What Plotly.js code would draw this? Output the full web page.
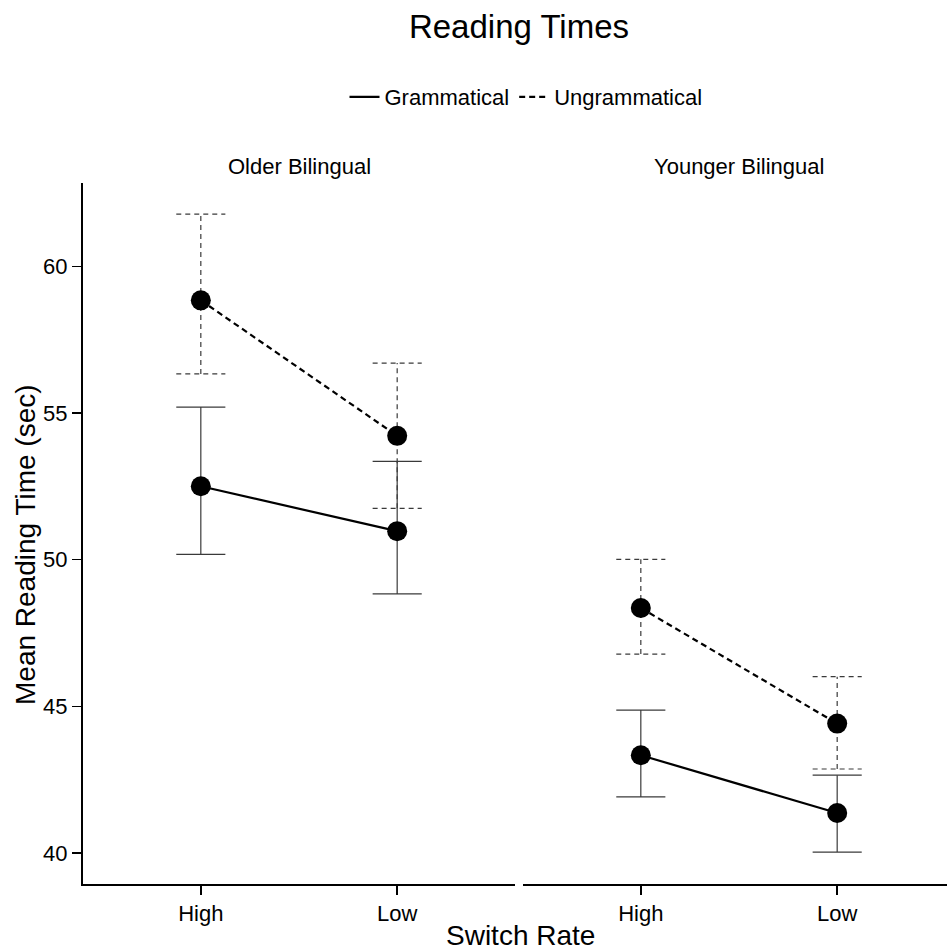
<!DOCTYPE html>
<html>
<head>
<meta charset="utf-8">
<script src="https://cdn.plot.ly/plotly-3.0.1.min.js"></script>
<style>html,body{margin:0;padding:0;background:#fff;}#chart{width:947px;height:950px;}</style>
</head>
<body>
<div id="chart"></div>
<script>
// ---- data ----
const panels = ['Older Bilingual', 'Younger Bilingual'];
const switchRate = ['High', 'Low'];
const conditions = ['Grammatical', 'Ungrammatical'];

// Older Bilingual
const olderGramMean = [52.50, 50.97];
const olderGramLow  = [50.18, 48.83];
const olderGramHigh = [55.20, 53.35];
const olderUngMean  = [58.84, 54.22];
const olderUngLow   = [56.33, 51.75];
const olderUngHigh  = [61.78, 56.70];

// Younger Bilingual
const youngerGramMean = [43.33, 41.36];
const youngerGramLow  = [41.91, 40.03];
const youngerGramHigh = [44.87, 42.65];
const youngerUngMean  = [48.35, 44.41];
const youngerUngLow   = [46.78, 42.86];
const youngerUngHigh  = [50.01, 46.01];

const tickVals = [40, 45, 50, 55, 60];

// ---- build ----
const FONT = 'Liberation Sans, Arial, Helvetica, sans-serif';
const series = [
  {panel: 0, cond: 0, mean: olderGramMean, lo: olderGramLow, hi: olderGramHigh},
  {panel: 0, cond: 1, mean: olderUngMean, lo: olderUngLow, hi: olderUngHigh},
  {panel: 1, cond: 0, mean: youngerGramMean, lo: youngerGramLow, hi: youngerGramHigh},
  {panel: 1, cond: 1, mean: youngerUngMean, lo: youngerUngLow, hi: youngerUngHigh}
];
const xpos = switchRate.map((s, i) => i + 1);
const capHalf = 0.125;

const errTraces = [], lineTraces = [], markerTraces = [];
series.forEach(s => {
  const xa = s.panel === 0 ? 'x' : 'x2';
  const dashed = s.cond === 1;
  const ex = [], ey = [];
  xpos.forEach((x, i) => {
    ex.push(x, x, null, x - capHalf, x + capHalf, null, x - capHalf, x + capHalf, null);
    ey.push(s.lo[i], s.hi[i], null, s.hi[i], s.hi[i], null, s.lo[i], s.lo[i], null);
  });
  errTraces.push({
    type: 'scatter', mode: 'lines', x: ex, y: ey, xaxis: xa, yaxis: 'y',
    line: {color: '#3a3a3a', width: 1.2, dash: dashed ? '5px,4px' : 'solid'},
    hoverinfo: 'skip', showlegend: false
  });
  lineTraces.push({
    type: 'scatter', mode: 'lines', x: xpos, y: s.mean, xaxis: xa, yaxis: 'y',
    name: conditions[s.cond], legendgroup: conditions[s.cond],
    showlegend: s.panel === 0,
    line: {color: '#000', width: 2.2, dash: dashed ? '6px,4px' : 'solid'}
  });
  markerTraces.push({
    type: 'scatter', mode: 'markers', x: xpos, y: s.mean, xaxis: xa, yaxis: 'y',
    marker: {color: '#000', size: 20},
    showlegend: false, hoverinfo: 'x+y'
  });
});

const W = 947, H = 950;
const mL = 83, mR = 0, mT = 183, mB = 66;
const pw = W - mL - mR, ph = H - mT - mB;
const unit = 432 / 2.2;
const x2start = (523 - mL) / pw;
const x2range = [0.4, 0.4 + (W - 523) / unit];

const xCommon = {
  tickvals: xpos, ticktext: switchRate, ticks: 'outside', ticklen: 9, tickwidth: 1.5, tickcolor: '#000',
  showline: true, linecolor: '#000', linewidth: 2, showgrid: false, zeroline: false,
  tickfont: {family: FONT, size: 22, color: '#000'}, anchor: 'y'
};

const layout = {
  width: W, height: H,
  margin: {l: mL, r: mR, t: mT, b: mB},
  paper_bgcolor: '#fff', plot_bgcolor: '#fff',
  font: {family: FONT, color: '#000'},
  title: {text: 'Reading Times', font: {family: FONT, size: 33, color: '#000'},
          x: 519 / W, xref: 'container', xanchor: 'center', y: 1 - 26 / H, yref: 'container', yanchor: 'middle'},
  showlegend: true,
  legend: {orientation: 'h', x: (526 - mL) / pw, xanchor: 'center', y: 1 + (mT - 97) / ph, yanchor: 'middle',
           font: {family: FONT, size: 22, color: '#000'}, itemwidth: 30, bgcolor: 'rgba(0,0,0,0)'},
  xaxis: Object.assign({}, xCommon, {domain: [0, 432 / pw], range: [0.4, 2.6]}),
  xaxis2: Object.assign({}, xCommon, {domain: [x2start, 1], range: x2range}),
  yaxis: {range: [38.94, 62.84], tickvals: tickVals, ticks: 'outside', ticklen: 9, tickwidth: 1.5, tickcolor: '#000',
          showline: true, linecolor: '#000', linewidth: 2, showgrid: false, zeroline: false,
          tickfont: {family: FONT, size: 22, color: '#000'}, anchor: 'x'},
  annotations: [
    {text: panels[0], xref: 'paper', yref: 'paper', x: (299 - mL) / pw, y: 1 + (mT - 166) / ph,
     xanchor: 'center', yanchor: 'middle', showarrow: false, font: {family: FONT, size: 22, color: '#000'}},
    {text: panels[1], xref: 'paper', yref: 'paper', x: (739 - mL) / pw, y: 1 + (mT - 166) / ph,
     xanchor: 'center', yanchor: 'middle', showarrow: false, font: {family: FONT, size: 22, color: '#000'}},
    {text: 'Switch Rate', xref: 'paper', yref: 'paper', x: (520 - mL) / pw, y: -(935 - (mT + ph)) / ph,
     xanchor: 'center', yanchor: 'middle', showarrow: false, font: {family: FONT, size: 28, color: '#000'}},
    {text: 'Mean Reading Time (sec)', xref: 'paper', yref: 'paper', x: (25 - mL) / pw, y: (mT + ph - 545) / ph, textangle: -90,
     xanchor: 'center', yanchor: 'middle', showarrow: false, font: {family: FONT, size: 28, color: '#000'}}
  ]
};

Plotly.newPlot('chart', errTraces.concat(lineTraces, markerTraces), layout, {displayModeBar: false, staticPlot: true});
</script>
</body>
</html>
